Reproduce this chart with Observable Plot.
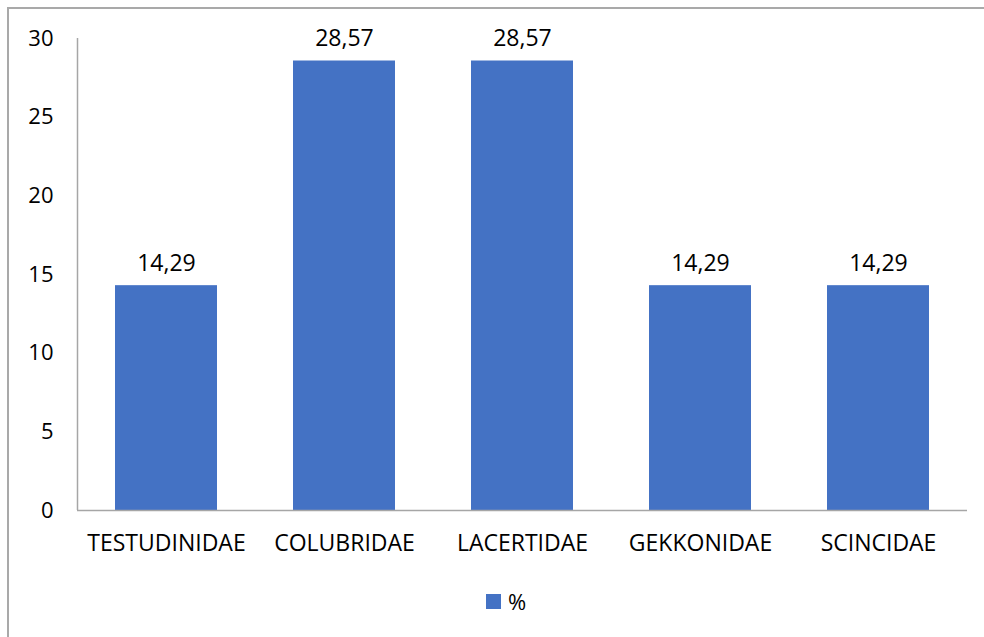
<!DOCTYPE html>
<html>
<head>
<meta charset="utf-8">
<script src="https://cdn.jsdelivr.net/npm/d3@7"></script>
<script src="https://cdn.jsdelivr.net/npm/@observablehq/plot@0.6"></script>
<style>
  html, body { margin: 0; padding: 0; background: #fff; overflow: hidden; }
  body { width: 984px; height: 637px; position: relative; font-family: "Open Sans", sans-serif; }
  #frame {
    position: absolute; left: 7px; top: 7px; width: 1100px; height: 800px;
    border-left: 2px solid #a9a9a9; border-top: 2px solid #a9a9a9;
  }
  #chart { position: absolute; left: 0; top: 0; }
  #legend {
    position: absolute; left: 0; top: 586px; width: 984px;
    display: flex; justify-content: center; align-items: center;
    font-size: 22px; color: #000; padding-left: 28px; box-sizing: border-box;
  }
  #legend .swatch { width: 15px; height: 15px; background: #4472c4; margin-right: 7px; }
</style>
</head>
<body>
<div id="frame"></div>
<div id="chart"></div>
<div id="legend"><span class="swatch"></span><span>%</span></div>
<script>
// Reptile families and their share of the recorded species (%)
const families = ["TESTUDINIDAE", "COLUBRIDAE", "LACERTIDAE", "GEKKONIDAE", "SCINCIDAE"];
const percents = [14.29, 28.57, 28.57, 14.29, 14.29];
const yTicks = [0, 5, 10, 15, 20, 25, 30];

const rows = families.map((family, i) => ({family, value: percents[i]}));
const fmt = v => d3.format(".2f")(v).replace(".", ",");

const W = 984, ML = 77, MR = 17;
const step = (W - ML - MR) / families.length;

const chart = Plot.plot({
  width: W,
  height: 575,
  marginLeft: ML,
  marginRight: MR,
  marginTop: 38,
  marginBottom: 65,
  style: {fontFamily: "'Open Sans', sans-serif", fontSize: "22px", color: "#000", background: "transparent"},
  x: {domain: families, paddingInner: 0.427, paddingOuter: 0.2135, label: null},
  y: {domain: [0, 30], label: null},
  marks: [
    Plot.barY(rows, {x: "family", y: "value", fill: "#4472c4"}),
    Plot.text(rows, {
      x: "family", y: "value", text: d => fmt(d.value),
      lineAnchor: "bottom", dy: -15, fontSize: 23, fill: "#000"
    }),
    Plot.axisY({ticks: yTicks, tickSize: 0, tickPadding: 24, fontSize: 22, label: null}),
    Plot.axisX({tickSize: 0, tickPadding: 24, fontSize: 23, label: null}),
    // vertical value axis line at the left edge of the first category band
    Plot.ruleX([families[0]], {
      y1: 0, y2: 30, stroke: "#a6a6a6", strokeWidth: 1.5, dx: -step / 2
    }),
    Plot.ruleY([0], {stroke: "#a6a6a6", strokeWidth: 1.5})
  ]
});
document.getElementById("chart").appendChild(chart);
</script>
</body>
</html>
